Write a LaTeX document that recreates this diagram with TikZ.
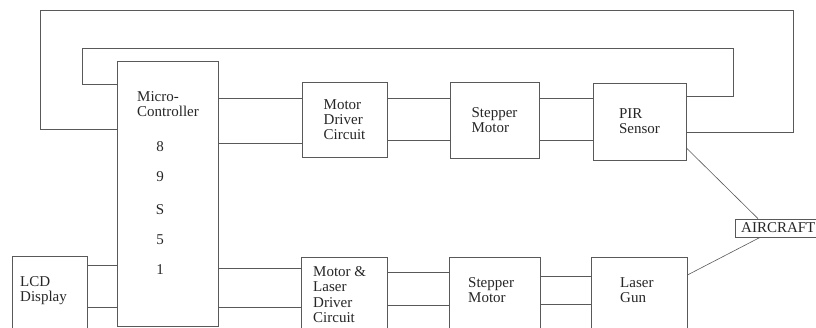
\documentclass[tikz,border=0pt]{standalone}
\usepackage{fontspec}
\setmainfont{Liberation Serif}
\begin{document}
\begin{tikzpicture}[x=1pt,y=-1pt,
  ln/.style={draw=black!65,line width=0.8pt},
  box/.style={ln,rectangle,inner sep=0pt,align=left,font=\fontsize{15}{15.2}\selectfont,text=black!85},
  lbl/.style={inner sep=0pt,align=left,font=\fontsize{15}{15.2}\selectfont,text=black!85}]
\useasboundingbox (0,0) rectangle (816,327);
\clip (0,0) rectangle (816,327);
% boxes
\node[box,minimum width=101pt,minimum height=265pt] (mc) at (167.5,193.5) {};
\node[box,minimum width=85pt,minimum height=75pt] (mdc) at (344.5,119.5) {Motor\\Driver\\Circuit};
\node[box,minimum width=89pt,minimum height=76pt] (sm1) at (494.5,120) {Stepper\\Motor};
\node[box,minimum width=93pt,minimum height=77pt] (pir) at (639.5,121.5) {PIR\\Sensor};
\node[box,minimum width=90pt,minimum height=18pt] (air) at (780,228) {};
\node[box,minimum width=75pt,minimum height=90pt] (lcd) at (49.5,301) {};
\node[box,minimum width=86pt,minimum height=90pt] (ml) at (344,302) {};
\node[box,minimum width=91pt,minimum height=90pt] (sm2) at (494.5,302) {};
\node[box,minimum width=96pt,minimum height=90pt] (lg) at (639,302) {};
% labels
\node[lbl,anchor=west] (mct) at (137,104.5) {Micro-\\Controller};
\node[lbl] (d8) at (160,147) {8};
\node[lbl] (d9) at (160,177) {9};
\node[lbl] (dS) at (160,210) {S};
\node[lbl] (d5) at (160,240) {5};
\node[lbl] (d1) at (160,270) {1};
\node[lbl,anchor=west] (airt) at (741,228) {AIRCRAFT};
\node[lbl,anchor=west] (lcdt) at (20,290.5) {LCD\\Display};
\node[lbl,anchor=west] (mlt) at (313,294.5) {Motor \&\\Laser\\Driver\\Circuit};
\node[lbl,anchor=west] (sm2t) at (468,290) {Stepper\\Motor};
\node[lbl,anchor=west] (lgt) at (620,290) {Laser\\Gun};
% horizontal links
\draw[ln] (mc.east |- 0,98) -- (mdc.west |- 0,98);
\draw[ln] (mc.east |- 0,143) -- (mdc.west |- 0,143);
\draw[ln] (mdc.east |- 0,98) -- (sm1.west |- 0,98);
\draw[ln] (mdc.east |- 0,140) -- (sm1.west |- 0,140);
\draw[ln] (sm1.east |- 0,98) -- (pir.west |- 0,98);
\draw[ln] (sm1.east |- 0,140) -- (pir.west |- 0,140);
\draw[ln] (lcd.east |- 0,265) -- (mc.west |- 0,265);
\draw[ln] (lcd.east |- 0,307) -- (mc.west |- 0,307);
\draw[ln] (mc.east |- 0,268) -- (ml.west |- 0,268);
\draw[ln] (mc.east |- 0,307) -- (ml.west |- 0,307);
\draw[ln] (ml.east |- 0,272) -- (sm2.west |- 0,272);
\draw[ln] (ml.east |- 0,305) -- (sm2.west |- 0,305);
\draw[ln] (sm2.east |- 0,276) -- (lg.west |- 0,276);
\draw[ln] (sm2.east |- 0,304) -- (lg.west |- 0,304);
% feedback loops
\draw[ln] (pir.east |- 0,96) -- (733,96) -- (733,48) -- (82,48) -- (82,84) -- (mc.west |- 0,84);
\draw[ln] (pir.east |- 0,132) -- (793,132) -- (793,10) -- (40,10) -- (40,129) -- (mc.west |- 0,129);
% aircraft links
\draw[ln,line width=0.6pt] (pir.east |- 0,148) -- (air.north -| 758,0);
\draw[ln,line width=0.6pt] (lg.east |- 0,275) -- (air.south -| 760,0);
\end{tikzpicture}
\end{document}
